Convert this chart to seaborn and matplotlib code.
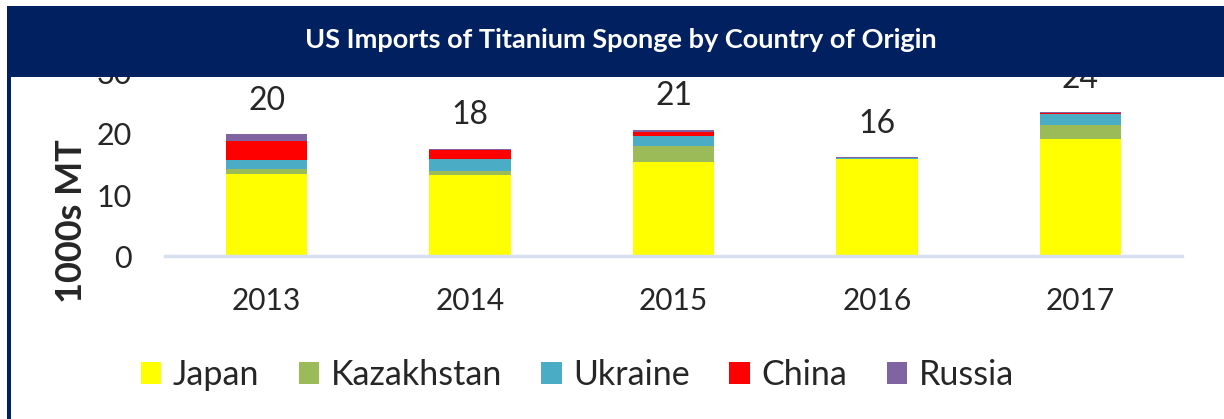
import matplotlib
matplotlib.use("Agg")
import matplotlib.pyplot as plt
from matplotlib.patches import Rectangle, Patch
import numpy as np
import pandas as pd
import seaborn as sns

# Data (1000s MT)
years = ["2013", "2014", "2015", "2016", "2017"]
japan = [13.4, 13.3, 15.4, 15.9, 19.2]
kazakhstan = [0.8, 0.6, 2.7, 0.0, 2.2]
ukraine = [1.5, 2.0, 1.5, 0.2, 1.9]
china = [3.1, 1.5, 0.8, 0.0, 0.15]
russia = [1.15, 0.2, 0.3, 0.1, 0.15]

countries = ["Japan", "Kazakhstan", "Ukraine", "China", "Russia"]
colors = ["#FFFF00", "#9BBB59", "#4BACC6", "#FF0000", "#8064A2"]

df = pd.DataFrame({"year": years, "Japan": japan, "Kazakhstan": kazakhstan,
                   "Ukraine": ukraine, "China": china, "Russia": russia})
# cumulative sums so that bars can be layered back to front
cum = df[countries].cumsum(axis=1)
cum["year"] = df["year"]
totals = df[countries].sum(axis=1)

sns.set_style("white")
plt.rcParams["font.family"] = ["Lato", "DejaVu Sans"]

fig = plt.figure(figsize=(12.24, 4.19), dpi=100)
ax = fig.add_axes([0.1348, 0.389, 0.8309, 0.4368])

# draw tallest cumulative first, smaller ones on top
for name, col in reversed(list(zip(countries, colors))):
    sns.barplot(data=cum, x="year", y=name, color=col, width=0.4,
                saturation=1, ax=ax, linewidth=0, zorder=2)

ax.set_ylim(0, 30)
ax.set_yticks([0, 10, 20, 30])
ax.set_xlim(-0.5, 4.5)
ax.set_xlabel("")
ax.set_ylabel("1000s MT", fontsize=26, fontweight="bold")
ax.yaxis.set_label_coords(-0.0757, 0.191)
ax.tick_params(axis="y", labelsize=22, length=0, pad=24)
ax.tick_params(axis="x", labelsize=21.5, length=0, pad=22)
for s in ["top", "right", "left"]:
    ax.spines[s].set_visible(False)
ax.spines["bottom"].set_color("#D6E0F0")
ax.spines["bottom"].set_linewidth(2.5)

# total labels above bars
for i, t in enumerate(totals):
    ax.annotate(f"{round(t):d}", (i, t), xytext=(0, 24), textcoords="offset points",
                ha="center", va="center", fontsize=23)

# legend
handles = [Patch(facecolor=c, edgecolor="none", label=n) for n, c in zip(countries, colors)]
fig.legend(handles=handles, loc="center", bbox_to_anchor=(0.4718, 0.105), ncol=5,
           frameon=False, fontsize=24.5, handlelength=0.6, handleheight=0.6,
           handletextpad=0.35, columnspacing=1.15)

# title banner and left border
fig.patches.append(Rectangle((8 / 1224, 1 - 77 / 419), 1 - 8 / 1224, 71 / 419,
                             transform=fig.transFigure, facecolor="#002060",
                             edgecolor="none", zorder=10))
fig.patches.append(Rectangle((7 / 1224, 0), 4 / 1224, 1 - 6 / 419,
                             transform=fig.transFigure, facecolor="#002060",
                             edgecolor="none", zorder=10))
fig.text(0.507, 1 - 40 / 419, "US Imports of Titanium Sponge by Country of Origin",
         color="white", fontsize=19.5, fontweight="bold", ha="center", va="center",
         zorder=11)

fig.savefig("out.png", dpi=100)
